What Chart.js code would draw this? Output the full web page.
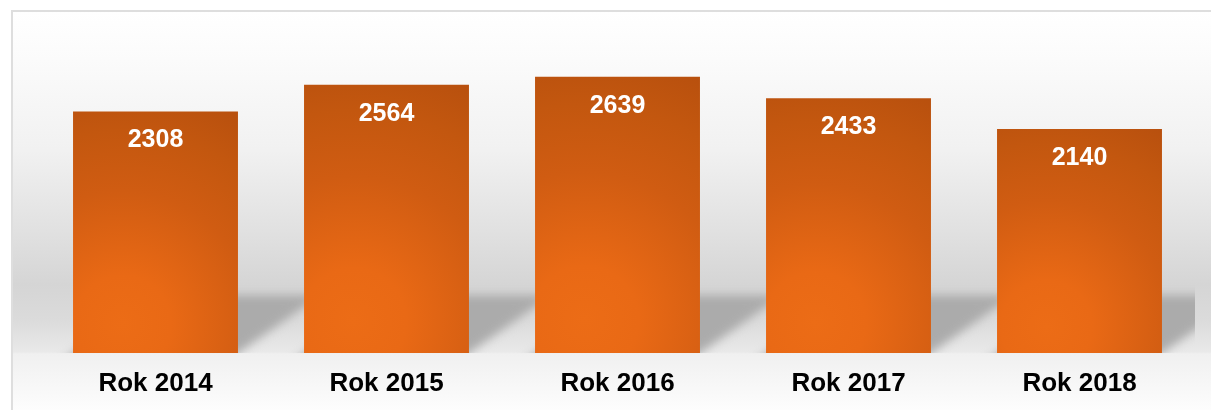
<!DOCTYPE html>
<html>
<head>
<meta charset="utf-8">
<script src="https://cdn.jsdelivr.net/npm/chart.js@4.4.1/dist/chart.umd.min.js"></script>
<style>
  html, body { margin: 0; padding: 0; background: #fff; }
  #wrap { position: relative; width: 1211px; height: 410px; }
</style>
</head>
<body>
<div id="wrap"><canvas id="chart" width="1211" height="410"></canvas></div>
<script>
// data
const years = ["Rok 2014", "Rok 2015", "Rok 2016", "Rok 2017", "Rok 2018"];
const counts = [2308, 2564, 2639, 2433, 2140];
const axisMax = 3000;

const FONT = '"Liberation Sans", Arial, sans-serif';
const BAR_PCT = 0.714;

/* panel background + thin grey frame (top and left only) */
const panelBg = {
  id: "panelBg",
  beforeDraw(chart) {
    const { ctx, width, height } = chart;
    ctx.save();
    ctx.fillStyle = "#fff";
    ctx.fillRect(0, 0, width, height);
    const g = ctx.createLinearGradient(0, 12, 0, height);
    g.addColorStop(0, "#ffffff");
    g.addColorStop(0.12, "#fbfbfb");
    g.addColorStop(0.347, "#f1f1f1");
    g.addColorStop(0.548, "#e1e1e1");
    g.addColorStop(0.686, "#d5d5d5");
    g.addColorStop(0.774, "#dbdbdb");
    g.addColorStop(0.854, "#e9e9e9");
    g.addColorStop(0.859, "#f0f0f0");
    g.addColorStop(1, "#fdfdfd");
    ctx.fillStyle = g;
    ctx.fillRect(13, 12, width - 13, height - 12);
    ctx.fillStyle = "#dedede";
    ctx.fillRect(11, 10, width - 11, 2);
    ctx.fillRect(11, 10, 2, height - 10);
    ctx.restore();
  }
};

/* soft floor shadow cast up and right behind every bar */
const floorShadow = {
  id: "floorShadow",
  beforeDatasetsDraw(chart) {
    const { ctx, chartArea } = chart;
    const meta = chart.getDatasetMeta(0);
    const dx = 83, h = 58;
    ctx.save();
    ctx.beginPath();
    ctx.rect(13, 240, chartArea.right - 13, chartArea.bottom - 240);
    ctx.clip();
    ctx.filter = "blur(5px)";
    ctx.fillStyle = "#ababab";
    meta.data.forEach(bar => {
      const L = bar.x - bar.width / 2, R = bar.x + bar.width / 2, b = bar.base;
      ctx.beginPath();
      ctx.moveTo(L - 0.3 * dx, b + 0.3 * h);
      ctx.lineTo(R - 0.3 * dx, b + 0.3 * h);
      ctx.lineTo(R + dx, b - h);
      ctx.lineTo(L + dx, b - h);
      ctx.closePath();
      ctx.fill();
    });
    ctx.restore();
  }
};

/* white value labels near the top of each bar */
const valueLabels = {
  id: "valueLabels",
  afterDatasetsDraw(chart) {
    const { ctx } = chart;
    const meta = chart.getDatasetMeta(0);
    ctx.save();
    ctx.font = "bold 25px " + FONT;
    ctx.fillStyle = "#ffffff";
    ctx.textAlign = "center";
    ctx.textBaseline = "middle";
    meta.data.forEach((bar, i) => {
      ctx.fillText(String(counts[i]), bar.x, bar.y + 29);
    });
    ctx.restore();
  }
};

function barFill(c) {
  const chart = c.chart;
  const area = chart.chartArea;
  if (!area || c.type !== "data") return "#d8601a";
  const xs = chart.scales.x, ys = chart.scales.y;
  const cx = xs.getPixelForValue(c.dataIndex);
  const w = (area.width / years.length) * BAR_PCT;
  const top = ys.getPixelForValue(c.raw);
  const bottom = ys.getPixelForValue(0);
  const H = bottom - top;
  const L = cx - w / 2;
  const gx = L + 0.3 * w, gy = bottom - 0.12 * H;
  const r = Math.hypot(0.7 * w, 0.88 * H);
  const g = chart.ctx.createRadialGradient(gx, gy, 0, gx, gy, r);
  g.addColorStop(0, "#ec6c16");
  g.addColorStop(0.2, "#e96915");
  g.addColorStop(0.55, "#d05c12");
  g.addColorStop(0.8, "#c3570f");
  g.addColorStop(1, "#b8500e");
  return g;
}

new Chart(document.getElementById("chart"), {
  type: "bar",
  data: {
    labels: years,
    datasets: [{
      data: counts,
      backgroundColor: barFill,
      borderWidth: 0,
      barPercentage: BAR_PCT,
      categoryPercentage: 1
    }]
  },
  options: {
    responsive: false,
    animation: false,
    layout: { padding: { left: 40, right: 16, top: 39, bottom: 12 } },
    plugins: { legend: { display: false }, tooltip: { enabled: false } },
    scales: {
      x: {
        grid: { display: false, drawTicks: false },
        border: { display: false },
        ticks: { color: "#000", padding: 15, font: { family: FONT, size: 26, weight: "bold" } },
        afterFit(scale) { scale.height = 45; }
      },
      y: { display: false, min: 0, max: axisMax }
    }
  },
  plugins: [panelBg, floorShadow, valueLabels]
});
</script>
</body>
</html>
